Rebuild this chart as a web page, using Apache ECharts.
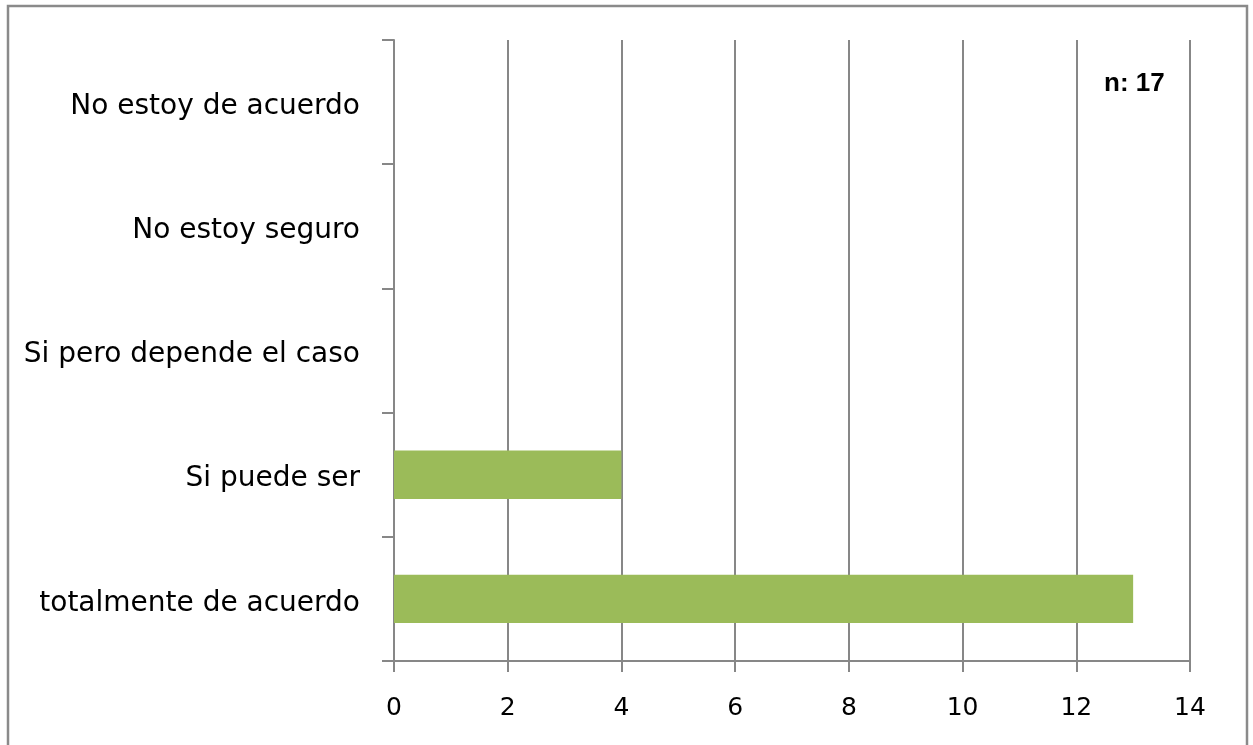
<!DOCTYPE html>
<html>
<head>
<meta charset="utf-8">
<script src="https://cdn.jsdelivr.net/npm/echarts@6/dist/echarts.min.js"></script>
<style>
html,body{margin:0;padding:0;background:#fff;}
#chart{width:1253px;height:745px;}
</style>
</head>
<body>
<div id="chart"></div>
<script>
const categories = ["totalmente de acuerdo", "Si puede ser", "Si pero depende el caso", "No estoy seguro", "No estoy de acuerdo"];
const values = [13, 4, 0, 0, 0];
const xTicks = [0, 2, 4, 6, 8, 10, 12, 14];
const note = "n: 17";

const chart = echarts.init(document.getElementById('chart'), null, {renderer: 'canvas'});
const gridColor = '#878787';
chart.setOption({
  animation: false,
  backgroundColor: '#ffffff',
  graphic: [
    {type: 'rect', shape: {x: 8, y: 6, width: 1239, height: 800}, style: {fill: 'none', stroke: '#8a8a8a', lineWidth: 2.5}, silent: true},
    {type: 'text', left: 1104, top: 71, style: {text: note, font: 'bold 26px "Liberation Sans", Arial, sans-serif', fill: '#000'}}
  ],
  grid: {left: 394, right: 63, top: 40, bottom: 84},
  xAxis: {
    type: 'value', min: xTicks[0], max: xTicks[xTicks.length - 1], interval: 2,
    axisLine: {show: true, lineStyle: {color: gridColor, width: 2}},
    axisTick: {show: true, length: 11, lineStyle: {color: gridColor, width: 2}},
    splitLine: {show: true, lineStyle: {color: gridColor, width: 2}},
    axisLabel: {color: '#000', fontSize: 25, fontFamily: '"DejaVu Sans", sans-serif', margin: 35}
  },
  yAxis: {
    type: 'category', data: categories,
    axisLine: {show: true, lineStyle: {color: gridColor, width: 2}},
    axisTick: {show: true, length: 12, lineStyle: {color: gridColor, width: 2}},
    splitLine: {show: false},
    axisLabel: {
      color: '#000', fontSize: 28, fontFamily: '"DejaVu Sans", sans-serif', margin: 34,
      formatter: function (v) { return '{a|' + v + '}'; },
      rich: {a: {color: '#000', fontSize: 28, fontFamily: '"DejaVu Sans", sans-serif', padding: [9, 0, 0, 0]}}
    }
  },
  series: [{
    type: 'bar', data: values, barCategoryGap: '61%',
    itemStyle: {color: '#9BBB59'}
  }]
});
</script>
</body>
</html>
